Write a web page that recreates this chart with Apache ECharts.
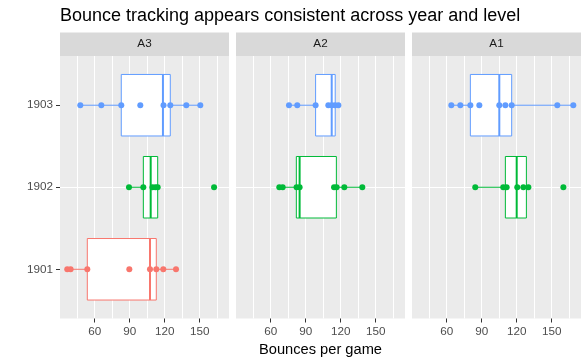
<!DOCTYPE html>
<html><head><meta charset="utf-8">
<script src="https://cdn.jsdelivr.net/npm/echarts@6/dist/echarts.min.js"></script>
<style>html,body{margin:0;padding:0;background:#fff}#c{width:588px;height:363px}</style>
</head><body><div id="c"></div>
<script>
const titleText = 'Bounce tracking appears consistent across year and level';
const xTitle = 'Bounces per game';
const panels = ['A3', 'A2', 'A1'];
const years = ['1901', '1902', '1903'];
const xTicks = [60, 90, 120, 150];
const yearColors = ['#F8766D', '#00BA38', '#619CFF'];

// individual games (bounces per game)
const ptsA3_1901 = [36.5, 39.4, 53.7, 89.7, 107.4, 112.8, 118.8, 129.7];
const ptsA3_1902 = [89.4, 101.7, 109.5, 112, 114, 162.3];
const ptsA3_1903 = [47.7, 65.7, 82.8, 99.1, 119, 124.8, 138.5, 150.5];
const ptsA2_1902 = [67.4, 70.3, 82.2, 84.8, 114.3, 116.5, 123.1, 138.5];
const ptsA2_1903 = [75.7, 82.8, 98.5, 109.4, 112.3, 115.1, 118];
const ptsA1_1902 = [84.5, 108.5, 111.4, 120.5, 125.7, 130, 160];
const ptsA1_1903 = [64, 71.7, 80.3, 88, 105.1, 110.3, 115.7, 154.8, 168.5];

// box stats: [lower whisker, Q1, median, Q3, upper whisker]
const boxA3_1901 = [36.5, 53.7, 107.4, 112.8, 129.7];
const boxA3_1902 = [89.4, 101.7, 108, 114, 114];
const boxA3_1903 = [47.7, 82.8, 118.5, 124.8, 150.5];
const boxA2_1902 = [67.4, 82, 84.8, 116.3, 138.5];
const boxA2_1903 = [75.7, 98.5, 112.3, 115.3, 118];
const boxA1_1902 = [84.5, 110.3, 120, 128.3, 130];
const boxA1_1903 = [64, 80.3, 105.1, 115.7, 168.5];

const panelPts = [
  [ptsA3_1901, ptsA3_1902, ptsA3_1903],
  [null, ptsA2_1902, ptsA2_1903],
  [null, ptsA1_1902, ptsA1_1903]
];
const panelBox = [
  [boxA3_1901, boxA3_1902, boxA3_1903],
  [null, boxA2_1902, boxA2_1903],
  [null, boxA1_1902, boxA1_1903]
];

// layout
const panelLeft = [60, 236, 412];
const panelW = 169;
const panelTop = 56;
const panelH = 262.5;
const stripTop = 32.5;
const stripH = 23.5;
const X_MIN = 30.3, X_MAX = 175.1;
const Y_MIN = 0.4, Y_MAX = 3.6;
const FONT = "'Liberation Sans', Arial, sans-serif";

function renderBox(params, api) {
  const y = api.value(0);
  const lo = api.coord([api.value(1), y]);
  const q1 = api.coord([api.value(2), y]);
  const md = api.coord([api.value(3), y]);
  const q3 = api.coord([api.value(4), y]);
  const hi = api.coord([api.value(5), y]);
  const h = api.size([0, 0.75])[1];
  const color = api.visual('color');
  return {
    type: 'group',
    children: [
      { type: 'line', shape: { x1: lo[0], y1: lo[1], x2: q1[0], y2: q1[1] }, style: { stroke: color, lineWidth: 1 } },
      { type: 'line', shape: { x1: q3[0], y1: q3[1], x2: hi[0], y2: hi[1] }, style: { stroke: color, lineWidth: 1 } },
      { type: 'rect', shape: { x: q1[0], y: q1[1] - h / 2, width: q3[0] - q1[0], height: h }, style: { fill: '#ffffff', stroke: color, lineWidth: 1 } },
      { type: 'line', shape: { x1: md[0], y1: md[1] - h / 2, x2: md[0], y2: md[1] + h / 2 }, style: { stroke: color, lineWidth: 2 } }
    ]
  };
}

const grids = [], xAxes = [], yAxes = [], series = [], graphics = [];
panels.forEach((name, p) => {
  grids.push({ left: panelLeft[p], top: panelTop, width: panelW, height: panelH, show: true, backgroundColor: '#EBEBEB', borderWidth: 0 });
  // labelled axis
  const xa = {
    gridIndex: p, type: 'value', min: X_MIN, max: X_MAX, minInterval: 30, maxInterval: 30, splitNumber: 5,
    axisLine: { show: false },
    axisTick: { show: true, length: 4, customValues: xTicks, lineStyle: { color: '#333333', width: 1 } },
    axisLabel: { customValues: xTicks, color: '#4D4D4D', fontSize: 11.7, margin: 7, fontFamily: FONT },
    splitLine: { show: false }
  };
  if (p === 1) {
    xa.name = xTitle; xa.nameLocation = 'middle'; xa.nameGap = 22;
    xa.nameTextStyle = { fontSize: 14.67, color: '#000000', fontFamily: FONT };
  }
  xAxes.push(xa);
  // grid-line axis
  xAxes.push({
    gridIndex: p, type: 'value', min: X_MIN, max: X_MAX, minInterval: 15, maxInterval: 15, splitNumber: 10,
    position: 'bottom',
    axisLine: { show: false }, axisTick: { show: false }, axisLabel: { show: false },
    splitLine: { show: true, showMinLine: false, showMaxLine: false, lineStyle: { color: '#FFFFFF', width: 1 } }
  });
  yAxes.push({
    gridIndex: p, type: 'value', min: Y_MIN, max: Y_MAX, minInterval: 1, maxInterval: 1, splitNumber: 3,
    axisLine: { show: false },
    axisTick: { show: p === 0, length: 4, customValues: [1, 2, 3], lineStyle: { color: '#333333', width: 1 } },
    axisLabel: { show: p === 0, customValues: [1, 2, 3],
      formatter: v => (Math.abs(v - Math.round(v)) < 1e-6 && years[Math.round(v) - 1]) || '',
      color: '#4D4D4D', fontSize: 11.7, margin: 7, fontFamily: FONT },
    splitLine: { show: true, showMinLine: false, showMaxLine: false, lineStyle: { color: '#FFFFFF', width: 1 } }
  });
  years.forEach((yr, yi) => {
    const box = panelBox[p][yi];
    const pts = panelPts[p][yi];
    if (box) {
      series.push({
        type: 'custom', xAxisIndex: 2 * p, yAxisIndex: p, renderItem: renderBox,
        itemStyle: { color: yearColors[yi] }, encode: { x: [1, 2, 3, 4, 5], y: 0 },
        data: [[yi + 1].concat(box)], z: 2, silent: true
      });
    }
    if (pts) {
      series.push({
        type: 'scatter', xAxisIndex: 2 * p, yAxisIndex: p, symbol: 'circle', symbolSize: 6,
        itemStyle: { color: yearColors[yi], opacity: 1 },
        data: pts.map(v => [v, yi + 1]), z: 3, silent: true
      });
    }
  });
  graphics.push({ type: 'rect', shape: { x: panelLeft[p], y: stripTop, width: panelW, height: stripH }, style: { fill: '#D9D9D9' }, silent: true });
  graphics.push({ type: 'text', x: panelLeft[p] + panelW / 2, y: stripTop + stripH / 2,
    style: { text: name, fill: '#1A1A1A', font: '11.7px ' + FONT, align: 'center', verticalAlign: 'middle' }, silent: true });
});

const chart = echarts.init(document.getElementById('c'), null, { renderer: 'canvas' });
chart.setOption({
  animation: false,
  backgroundColor: '#FFFFFF',
  textStyle: { fontFamily: FONT },
  title: { text: titleText, left: 60, top: 7, padding: 0,
    textStyle: { fontSize: 18, fontWeight: 'normal', color: '#000000', fontFamily: FONT } },
  grid: grids, xAxis: xAxes, yAxis: yAxes, series: series, graphic: graphics
});
</script></body></html>
